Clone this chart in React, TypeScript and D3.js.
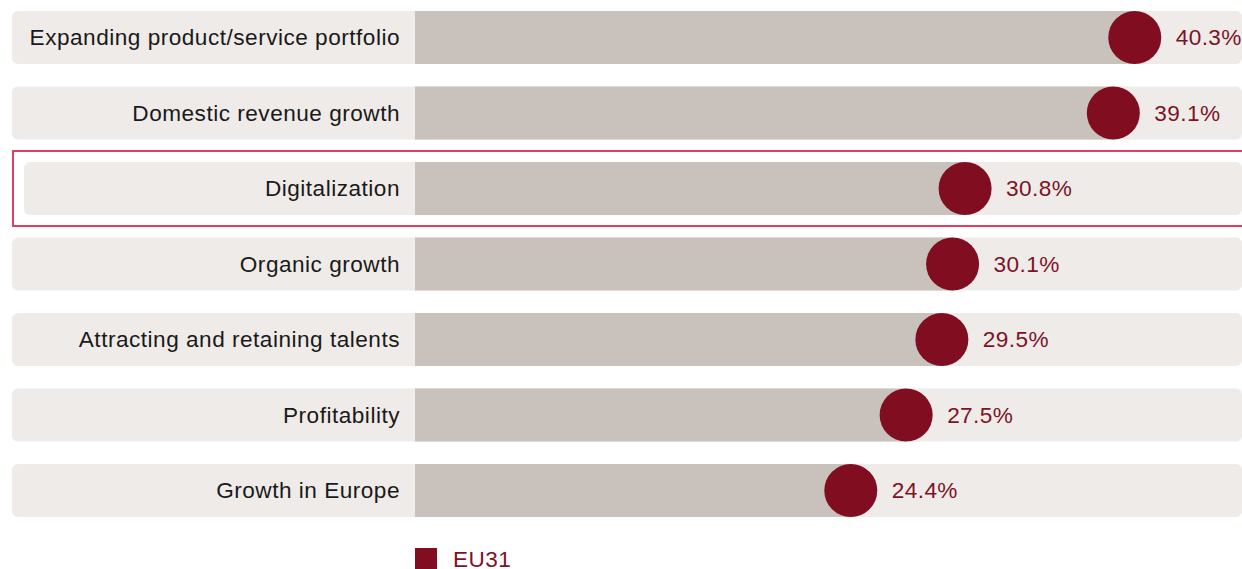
import React from "react";
import * as d3 from "d3";

const categories = [
  "Expanding product/service portfolio",
  "Domestic revenue growth",
  "Digitalization",
  "Organic growth",
  "Attracting and retaining talents",
  "Profitability",
  "Growth in Europe",
];
const values = [40.3, 39.1, 30.8, 30.1, 29.5, 27.5, 24.4];
const highlighted = ["Digitalization"];
const seriesName = "EU31";

const W = 1242;
const H = 569;

export default function App() {
  const x = d3.scaleLinear().domain([0, 50]).range([415, 415 + 50 * 17.86]);
  const y = d3
    .scaleBand<string>()
    .domain(categories)
    .range([0, 6 * 75.5 + 53])
    .paddingInner(22.5 / 75.5)
    .paddingOuter(0);
  const top = 11;
  const bh = y.bandwidth();
  const r = bh / 2;
  const font = "'Liberation Sans', Arial, Helvetica, sans-serif";

  return (
    <svg
      width={W}
      height={H}
      style={{ position: "absolute", left: 0, top: 0, display: "block" }}
      fontFamily={font}
    >
      {categories.map((c, i) => {
        const yy = top + (y(c) as number);
        const hl = highlighted.includes(c);
        const x0 = hl ? 24 : 12;
        const cx = x(values[i]);
        return (
          <g key={c}>
            {hl && (
              <rect
                x={13}
                y={yy - 11}
                width={W + 10}
                height={bh + 22}
                fill="none"
                stroke="#e0405f"
                strokeWidth={2}
              />
            )}
            <rect x={x0} y={yy} width={W - x0} height={bh} rx={6} fill="#efebe8" />
            <rect x={415} y={yy} width={cx - 415} height={bh} fill="#c9c1bb" />
            <text
              x={400}
              y={yy + bh / 2}
              dy="0.35em"
              textAnchor="end"
              fontSize={22.6}
              letterSpacing={0.5}
              fill="#1a1a1a"
            >
              {c}
            </text>
            <circle cx={cx} cy={yy + bh / 2} r={r} fill="#800d20" />
            <text
              x={cx + 41}
              y={yy + bh / 2}
              dy="0.35em"
              fontSize={22.6}
              letterSpacing={0.4}
              fill="#7d1326"
            >
              {values[i].toFixed(1) + "%"}
            </text>
          </g>
        );
      })}
      <rect x={415} y={548} width={22} height={22} fill="#800d20" />
      <text x={453} y={567} fontSize={22.6} letterSpacing={0.4} fill="#7d1326">
        {seriesName}
      </text>
    </svg>
  );
}
